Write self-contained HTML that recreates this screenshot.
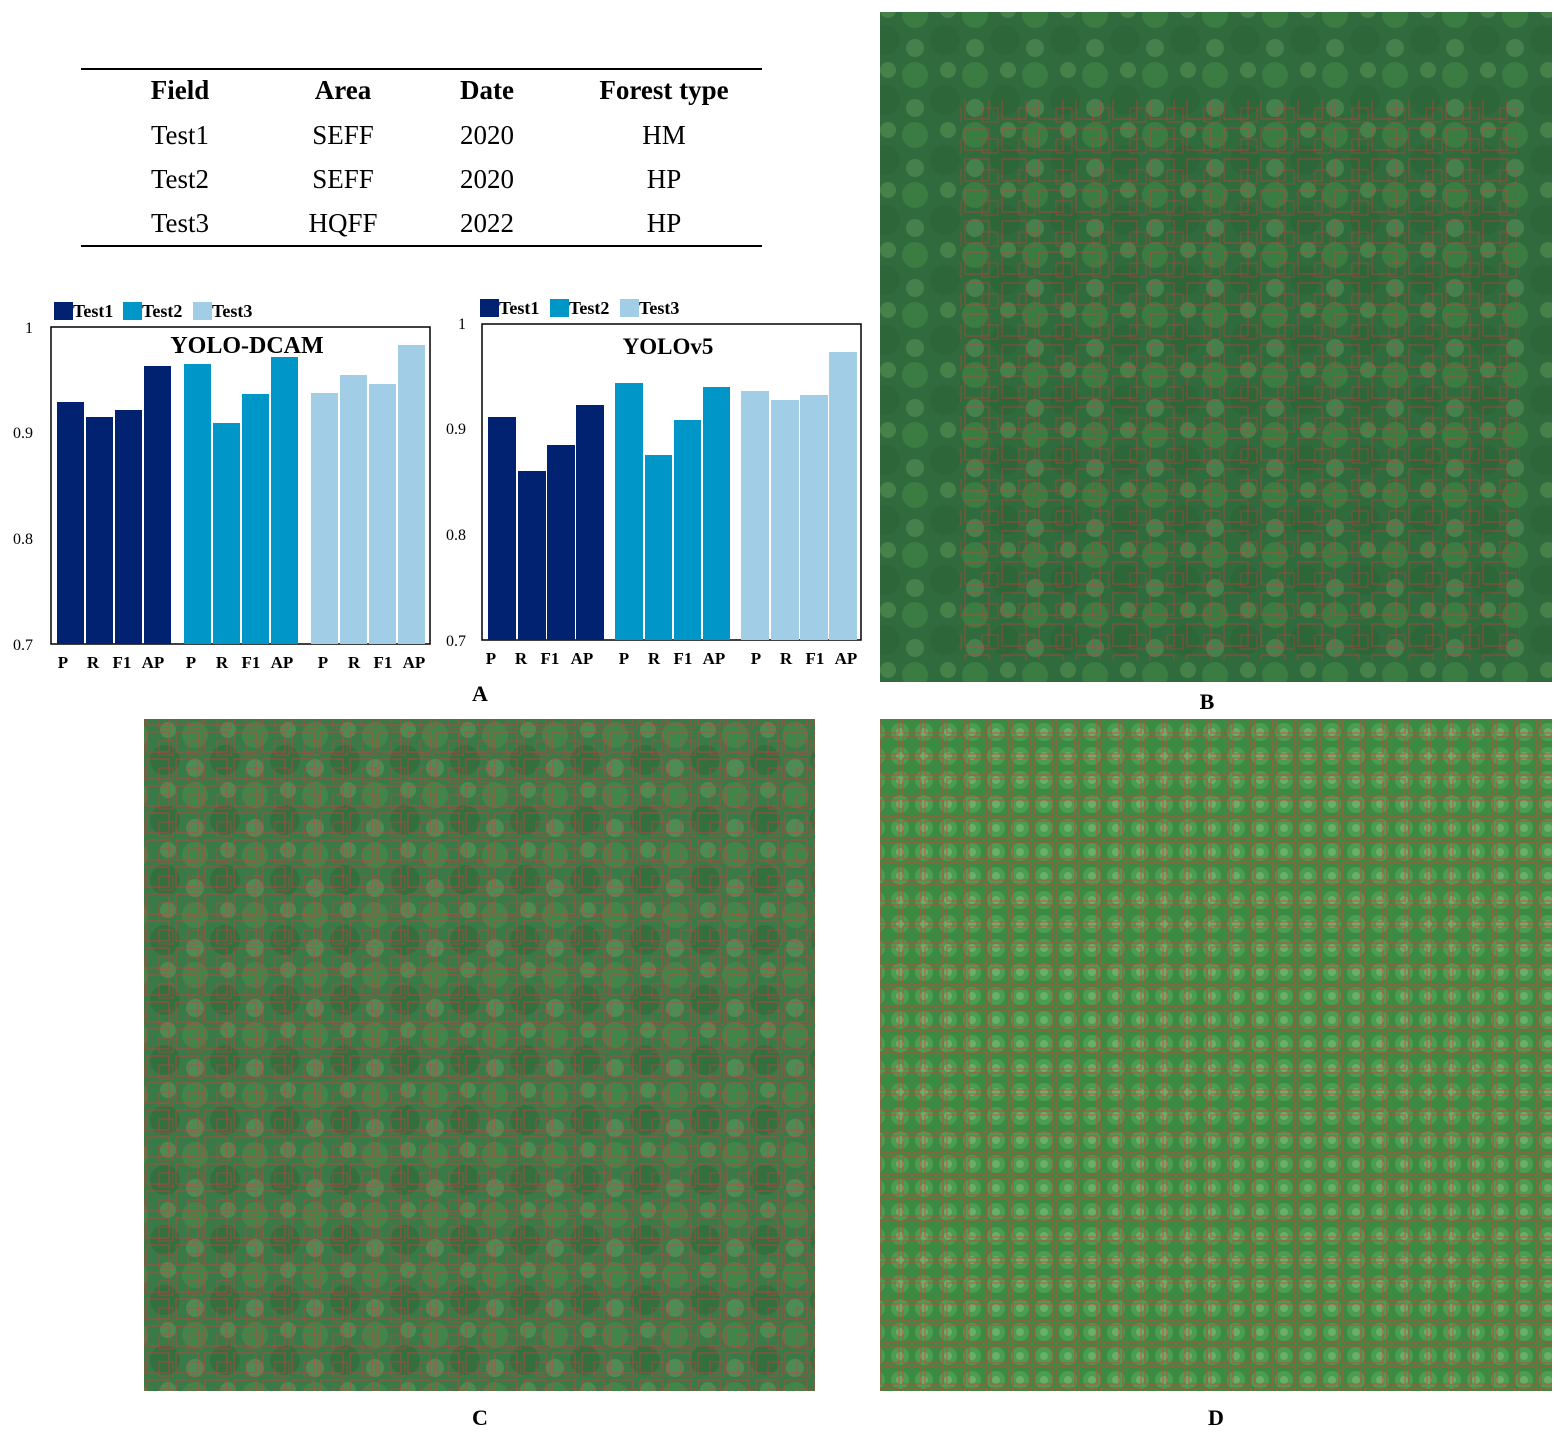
<!DOCTYPE html><html><head><style>body{margin:0;background:#fff;}svg text{font-family:"Liberation Serif",serif;}</style></head><body>
<svg width="1563" height="1437" viewBox="0 0 1563 1437" xmlns="http://www.w3.org/2000/svg">
<defs>
<pattern id="bxB" width="37" height="31" patternUnits="userSpaceOnUse"><rect x="3" y="4" width="24" height="22" fill="none" stroke="#e8333a" stroke-width="1"/><rect x="20" y="15" width="16" height="14" fill="none" stroke="#e8333a" stroke-width="0.8"/></pattern>
<pattern id="bxC" width="29" height="27" patternUnits="userSpaceOnUse"><rect x="2" y="3" width="22" height="20" fill="none" stroke="#e8333a" stroke-width="1"/><rect x="14" y="12" width="14" height="14" fill="none" stroke="#e8333a" stroke-width="0.8"/></pattern>
<pattern id="bxD" width="22" height="21" patternUnits="userSpaceOnUse"><rect x="1" y="2" width="18" height="17" fill="none" stroke="#e8333a" stroke-width="1"/></pattern>
<pattern id="canopy" width="60" height="60" patternUnits="userSpaceOnUse"><circle cx="15" cy="15" r="13" fill="#4f9a4c" opacity="0.35"/><circle cx="45" cy="40" r="15" fill="#2a5f34" opacity="0.4"/><circle cx="48" cy="10" r="8" fill="#7fb56a" opacity="0.3"/><circle cx="15" cy="48" r="9" fill="#8cbf7a" opacity="0.25"/></pattern>
<pattern id="canopyD" width="24" height="24" patternUnits="userSpaceOnUse"><circle cx="12" cy="12" r="9" fill="#5db55f" opacity="0.45"/><circle cx="12" cy="12" r="4" fill="#9fcf98" opacity="0.35"/></pattern>
</defs>
<line x1="81" y1="69" x2="762" y2="69" stroke="#000" stroke-width="2"/>
<line x1="81" y1="246" x2="762" y2="246" stroke="#000" stroke-width="2"/>
<g font-size="27" text-anchor="middle">
<text x="180" y="99" font-weight="bold">Field</text><text x="343" y="99" font-weight="bold">Area</text><text x="487" y="99" font-weight="bold">Date</text><text x="664" y="99" font-weight="bold">Forest type</text>
<text x="180" y="144">Test1</text><text x="343" y="144">SEFF</text><text x="487" y="144">2020</text><text x="664" y="144">HM</text>
<text x="180" y="188">Test2</text><text x="343" y="188">SEFF</text><text x="487" y="188">2020</text><text x="664" y="188">HP</text>
<text x="180" y="232">Test3</text><text x="343" y="232">HQFF</text><text x="487" y="232">2022</text><text x="664" y="232">HP</text>
</g>
<g font-size="18" font-weight="bold">
<rect x="54" y="302" width="19" height="18" fill="#002270"/><text x="73" y="317">Test1</text>
<rect x="123" y="302" width="19" height="18" fill="#0096c8"/><text x="142" y="317">Test2</text>
<rect x="193" y="302" width="19" height="18" fill="#a2cde6"/><text x="212" y="317">Test3</text>
<rect x="480" y="299" width="19" height="18" fill="#002270"/><text x="499" y="314">Test1</text>
<rect x="550" y="299" width="19" height="18" fill="#0096c8"/><text x="569" y="314">Test2</text>
<rect x="620" y="299" width="19" height="18" fill="#a2cde6"/><text x="639" y="314">Test3</text>
</g>
<rect x="51" y="327" width="379" height="317" fill="#fff" stroke="#000" stroke-width="1.5"/>
<g fill="#002270"><rect x="57" y="402" width="27" height="242"/><rect x="86" y="417" width="27" height="227"/><rect x="115" y="410" width="27" height="234"/><rect x="144" y="366" width="27" height="278"/></g>
<g fill="#0096c8"><rect x="184" y="364" width="27" height="280"/><rect x="213" y="423" width="27" height="221"/><rect x="242" y="394" width="27" height="250"/><rect x="271" y="357" width="27" height="287"/></g>
<g fill="#a2cde6"><rect x="311" y="393" width="27" height="251"/><rect x="340" y="375" width="27" height="269"/><rect x="369" y="384" width="27" height="260"/><rect x="398" y="345" width="27" height="299"/></g>
<text x="247" y="353" font-size="24" font-weight="bold" text-anchor="middle">YOLO-DCAM</text>
<g font-size="16" text-anchor="end"><text x="33" y="333">1</text><text x="33" y="438">0.9</text><text x="33" y="544">0.8</text><text x="33" y="650">0.7</text>
<text x="466" y="329">1</text><text x="466" y="434">0.9</text><text x="466" y="540">0.8</text><text x="466" y="646">0.7</text></g>
<g font-size="17" font-weight="bold" text-anchor="middle">
<text x="63" y="668">P</text><text x="93" y="668">R</text><text x="122" y="668">F1</text><text x="153" y="668">AP</text>
<text x="191" y="668">P</text><text x="222" y="668">R</text><text x="251" y="668">F1</text><text x="282" y="668">AP</text>
<text x="323" y="668">P</text><text x="354" y="668">R</text><text x="383" y="668">F1</text><text x="414" y="668">AP</text>
<text x="491" y="664">P</text><text x="521" y="664">R</text><text x="550" y="664">F1</text><text x="582" y="664">AP</text>
<text x="624" y="664">P</text><text x="654" y="664">R</text><text x="683" y="664">F1</text><text x="714" y="664">AP</text>
<text x="756" y="664">P</text><text x="786" y="664">R</text><text x="815" y="664">F1</text><text x="846" y="664">AP</text>
</g>
<rect x="482" y="324" width="379" height="316" fill="#fff" stroke="#000" stroke-width="1.5"/>
<g fill="#002270"><rect x="488" y="417" width="28" height="223"/><rect x="518" y="471" width="28" height="169"/><rect x="547" y="445" width="28" height="195"/><rect x="576" y="405" width="28" height="235"/></g>
<g fill="#0096c8"><rect x="615" y="383" width="28" height="257"/><rect x="645" y="455" width="27" height="185"/><rect x="674" y="420" width="27" height="220"/><rect x="703" y="387" width="27" height="253"/></g>
<g fill="#a2cde6"><rect x="741" y="391" width="28" height="249"/><rect x="771" y="400" width="28" height="240"/><rect x="800" y="395" width="28" height="245"/><rect x="829" y="352" width="28" height="288"/></g>
<text x="668" y="354" font-size="23" font-weight="bold" text-anchor="middle">YOLOv5</text>
<g font-size="22" font-weight="bold" text-anchor="middle"><text x="480" y="701">A</text><text x="1207" y="709">B</text><text x="480" y="1425">C</text><text x="1216" y="1425">D</text></g>
<rect x="880" y="12" width="672" height="670" fill="#2f6b3c"/>
<rect x="880" y="12" width="672" height="670" fill="url(#canopy)"/>
<rect x="960" y="100" width="560" height="560" fill="url(#bxB)" opacity="0.6"/>
<rect x="144" y="719" width="671" height="672" fill="#3a7a48"/>
<rect x="144" y="719" width="671" height="672" fill="url(#canopy)"/>
<rect x="144" y="719" width="671" height="672" fill="url(#bxC)" opacity="0.7"/>
<rect x="880" y="719" width="672" height="672" fill="#3d8a45"/>
<rect x="880" y="719" width="672" height="672" fill="url(#canopyD)"/>
<rect x="880" y="719" width="672" height="672" fill="url(#bxD)" opacity="0.8"/>
</svg></body></html>
